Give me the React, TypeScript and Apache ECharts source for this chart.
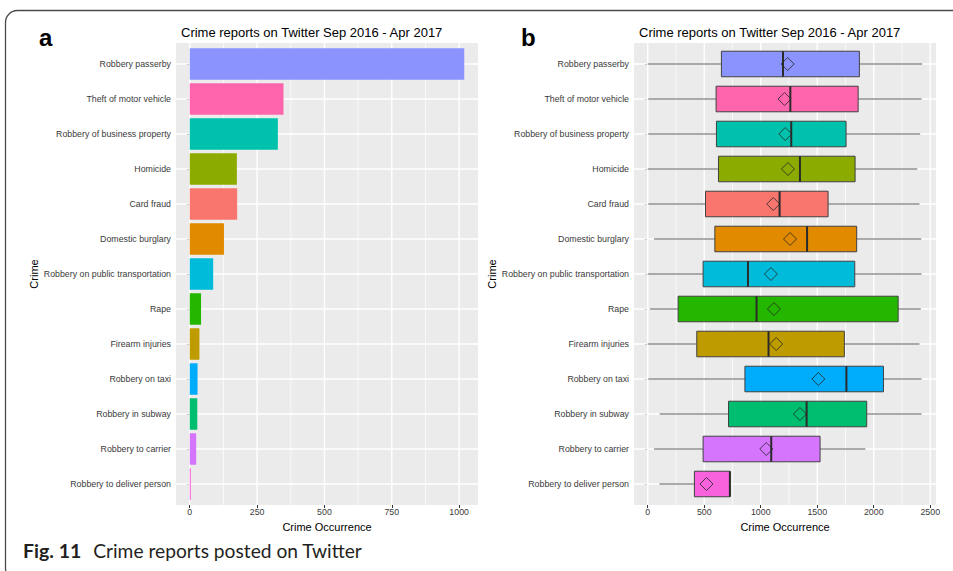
import React, { useEffect, useRef } from "react";
import * as echarts from "echarts";

// Crime categories, top to bottom
const crimes = [
  "Robbery passerby",
  "Theft of motor vehicle",
  "Robbery of business property",
  "Homicide",
  "Card fraud",
  "Domestic burglary",
  "Robbery on public transportation",
  "Rape",
  "Firearm injuries",
  "Robbery on taxi",
  "Robbery in subway",
  "Robbery to carrier",
  "Robbery to deliver person",
];

const crimeColors = [
  "#8B93FF",
  "#FF65AC",
  "#00C1AB",
  "#8CAB00",
  "#F8766D",
  "#E18A00",
  "#00BBDA",
  "#24B700",
  "#BE9C00",
  "#00ACFC",
  "#00BE70",
  "#D575FE",
  "#F962DD",
];

// Panel a: number of reports per crime
const occurrences = [1019, 348, 327, 175, 176, 127, 87, 42, 36, 29, 28, 24, 4];

// Panel b: box plot statistics per crime
const whiskerLow = [0, 5, 5, 0, 5, 56, 0, 20, 0, 5, 106, 56, 103];
const quartile1 = [652, 605, 608, 626, 511, 594, 490, 269, 434, 860, 715, 490, 413];
const medians = [1197, 1262, 1270, 1347, 1167, 1410, 887, 963, 1069, 1758, 1406, 1093, 727];
const quartile3 = [1873, 1862, 1755, 1835, 1596, 1849, 1832, 2216, 1740, 2086, 1938, 1525, 727];
const whiskerHigh = [2429, 2423, 2411, 2385, 2405, 2420, 2423, 2417, 2405, 2423, 2423, 1926, 727];
const means = [1238, 1211, 1217, 1241, 1111, 1259, 1090, 1117, 1137, 1510, 1347, 1049, 520];

// Axis ticks
const ticksA = [0, 250, 500, 750, 1000];
const minorA = [125, 375, 625, 875];
const ticksB = [0, 500, 1000, 1500, 2000, 2500];
const minorB = [250, 750, 1250, 1750, 2250];

const FONT = "'Liberation Sans', Arial, sans-serif";
const CAPTION_FONT = "Lato, 'Open Sans', sans-serif";
const PANEL_BG = "#EBEBEB";
const LABEL_COLOR = "#3A3A3A";

// Panel geometry (gray plotting area)
const PANEL_TOP = 43;
const PANEL_H = 462;
const BAND_PAD = (PANEL_H * 0.1) / 13.2; // 0.6-band expansion instead of 0.5
const GRID_TOP = PANEL_TOP + BAND_PAD;
const GRID_H = PANEL_H - 2 * BAND_PAD;
const LEFT_A = 176;
const LEFT_B = 634;
const PANEL_W = 302;

function verticalGrid(axisIndex: number, values: number[], width: number) {
  return {
    type: "custom",
    xAxisIndex: axisIndex,
    yAxisIndex: axisIndex,
    silent: true,
    z: 1,
    data: values.map((v) => [v, 0]),
    encode: { x: 0, y: 1 },
    renderItem: (params: any, api: any) => {
      const cs = params.coordSys;
      const x = api.coord([api.value(0), 0])[0];
      return {
        type: "line",
        shape: { x1: x, y1: cs.y - BAND_PAD, x2: x, y2: cs.y + cs.height + BAND_PAD },
        style: { stroke: "#FFFFFF", lineWidth: width },
      };
    },
  };
}

function horizontalGrid(axisIndex: number) {
  return {
    type: "custom",
    xAxisIndex: axisIndex,
    yAxisIndex: axisIndex,
    silent: true,
    z: 1,
    data: crimes.map((_, i) => [0, i]),
    encode: { x: 0, y: 1 },
    renderItem: (params: any, api: any) => {
      const cs = params.coordSys;
      const y = api.coord([0, api.value(1)])[1];
      return {
        type: "line",
        shape: { x1: cs.x, y1: y, x2: cs.x + cs.width, y2: y },
        style: { stroke: "#FFFFFF", lineWidth: 1.4 },
      };
    },
  };
}

function categoryAxis(gridIndex: number, nameGap: number) {
  return {
    type: "category",
    gridIndex,
    data: crimes,
    inverse: true,
    axisLine: { show: false },
    axisTick: { show: true, alignWithLabel: true, length: 3, lineStyle: { color: "#333333", width: 1 } },
    axisLabel: { fontSize: 8.8, color: LABEL_COLOR, margin: 5, fontFamily: FONT },
    splitLine: { show: false },
    name: "Crime",
    nameLocation: "middle",
    nameGap,
    nameTextStyle: { fontSize: 11, color: "#000000", fontFamily: FONT },
  };
}

function valueAxis(gridIndex: number, min: number, max: number, ticks: number[]) {
  return {
    type: "value",
    gridIndex,
    min,
    max,
    offset: BAND_PAD,
    axisLine: { show: false, onZero: false },
    axisTick: { show: true, length: 3, customValues: ticks, lineStyle: { color: "#333333", width: 1 } },
    axisLabel: {
      fontSize: 8.8,
      color: LABEL_COLOR,
      margin: 2,
      customValues: ticks,
      fontFamily: FONT,
      formatter: (v: number) => String(v),
    },
    splitLine: { show: false },
    name: "Crime Occurrence",
    nameLocation: "middle",
    nameGap: 16,
    nameTextStyle: { fontSize: 11, color: "#000000", fontFamily: FONT },
  };
}

export default function App() {
  const ref = useRef<HTMLDivElement>(null);

  useEffect(() => {
    if (!ref.current) return;
    const chart = echarts.init(ref.current, undefined, { renderer: "svg" });

    const panelTitle = "Crime reports on Twitter Sep 2016 - Apr 2017";
    const titleStyle = { fontSize: 13, fontWeight: "normal", color: "#000", fontFamily: FONT };
    const letterStyle = { fontSize: 24, fontWeight: "bold", color: "#000", fontFamily: FONT };

    const option: any = {
      animation: false,
      backgroundColor: "#FFFFFF",
      title: [
        { text: panelTitle, left: LEFT_A, top: 21, textStyle: titleStyle },
        { text: panelTitle, left: LEFT_B, top: 21, textStyle: titleStyle },
        { text: "a", left: 34, top: 20, textStyle: letterStyle },
        { text: "b", left: 516, top: 20, textStyle: letterStyle },
        {
          text: "{b|Fig. 11}  {r|Crime reports posted on Twitter}",
          left: 23,
          top: 540,
          padding: 0,
          textStyle: {
            rich: {
              b: { fontSize: 19.5, fontWeight: "bold", color: "#231F20", fontFamily: CAPTION_FONT },
              r: { fontSize: 19.2, fontWeight: "normal", color: "#231F20", fontFamily: CAPTION_FONT, padding: [0, 0, 0, 2] },
            },
          },
        },
      ],
      graphic: [
        {
          type: "rect",
          z: 0,
          silent: true,
          shape: { x: 5.5, y: 10.5, width: 990, height: 570, r: 12 },
          style: { fill: "none", stroke: "#4A4A4A", lineWidth: 1.3 },
        },
        {
          type: "rect",
          z: 0,
          silent: true,
          shape: { x: LEFT_A, y: PANEL_TOP, width: PANEL_W, height: PANEL_H },
          style: { fill: PANEL_BG },
        },
        {
          type: "rect",
          z: 0,
          silent: true,
          shape: { x: LEFT_B, y: PANEL_TOP, width: PANEL_W, height: PANEL_H },
          style: { fill: PANEL_BG },
        },
      ],
      grid: [
        { left: LEFT_A, top: GRID_TOP, width: PANEL_W, height: GRID_H, containLabel: false },
        { left: LEFT_B, top: GRID_TOP, width: PANEL_W, height: GRID_H, containLabel: false },
      ],
      xAxis: [valueAxis(0, -51, 1070, ticksA), valueAxis(1, -121.5, 2551, ticksB)],
      yAxis: [categoryAxis(0, 132), categoryAxis(1, 132)],
      series: [
        verticalGrid(0, minorA, 0.7),
        verticalGrid(0, ticksA, 1.4),
        horizontalGrid(0),
        verticalGrid(1, minorB, 0.7),
        verticalGrid(1, ticksB, 1.4),
        horizontalGrid(1),
        {
          type: "bar",
          xAxisIndex: 0,
          yAxisIndex: 0,
          z: 2,
          barCategoryGap: "10%",
          data: occurrences.map((v, i) => ({ value: v, itemStyle: { color: crimeColors[i] } })),
        },
        {
          type: "custom",
          xAxisIndex: 1,
          yAxisIndex: 1,
          z: 2,
          data: crimes.map((_, i) => [i, whiskerLow[i], quartile1[i], medians[i], quartile3[i], whiskerHigh[i]]),
          encode: { y: 0, x: [1, 2, 3, 4, 5] },
          renderItem: (params: any, api: any) => {
            const cat = api.value(0);
            const lo = api.coord([api.value(1), cat]);
            const q1 = api.coord([api.value(2), cat]);
            const med = api.coord([api.value(3), cat]);
            const q3 = api.coord([api.value(4), cat]);
            const hi = api.coord([api.value(5), cat]);
            const band = api.size([0, 1])[1];
            const h = band * 0.73;
            const y = lo[1];
            const color = crimeColors[params.dataIndex];
            return {
              type: "group",
              children: [
                { type: "line", shape: { x1: lo[0], y1: y, x2: q1[0], y2: y }, style: { stroke: "#5A5A5A", lineWidth: 1 } },
                { type: "line", shape: { x1: q3[0], y1: y, x2: hi[0], y2: y }, style: { stroke: "#5A5A5A", lineWidth: 1 } },
                {
                  type: "rect",
                  shape: { x: q1[0], y: y - h / 2, width: q3[0] - q1[0], height: h },
                  style: { fill: color, stroke: "#404040", lineWidth: 1 },
                },
                {
                  type: "line",
                  shape: { x1: med[0], y1: y - h / 2, x2: med[0], y2: y + h / 2 },
                  style: { stroke: "#2B2B2B", lineWidth: 2 },
                },
              ],
            };
          },
        },
        {
          type: "scatter",
          xAxisIndex: 1,
          yAxisIndex: 1,
          z: 3,
          symbol: "diamond",
          symbolSize: [13, 13],
          itemStyle: { color: "rgba(0,0,0,0)", borderColor: "#262626", borderWidth: 1 },
          data: means.map((m, i) => [m, i]),
        },
      ],
    };

    chart.setOption(option);
    return () => chart.dispose();
  }, []);

  return <div ref={ref} style={{ position: "absolute", left: 0, top: 0, width: 953, height: 571 }} />;
}
